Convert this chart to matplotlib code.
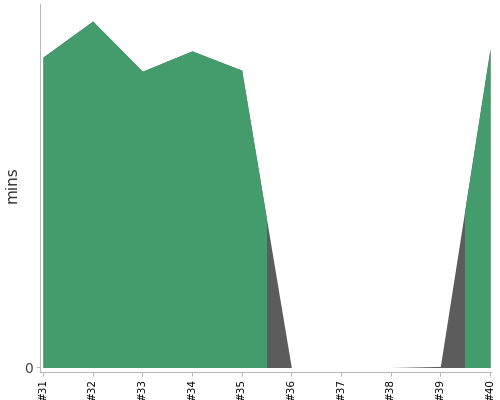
import matplotlib
matplotlib.use('Agg')
import matplotlib.pyplot as plt
from matplotlib.patches import Rectangle

builds = [31, 32, 33, 34, 35, 36, 37, 38, 39, 40]
labels = ['#%d' % b for b in builds]
mins = [85.4, 95.3, 81.5, 87.1, 81.8, 0, 0, 0, 0.3, 87.6]
passed = [True, True, True, True, True, False, False, False, False, True]

fig = plt.figure(figsize=(5, 4), dpi=100)
ax = fig.add_axes([40 / 500, 28 / 400, 451 / 500, 368 / 400])

# whole series in dark grey, green painted over passing builds
ax.fill_between(builds, mins, 0, color='#5c5c5c', lw=0)
for i, b in enumerate(builds):
    if not passed[i]:
        continue
    lo = b - 0.5 if i > 0 else b - 1
    hi = b + 0.5 if i < len(builds) - 1 else b + 1
    poly = ax.fill_between(builds, mins, 0, color='#449c6c', lw=0)
    clip = Rectangle((lo, -10), hi - lo, 200, transform=ax.transData)
    poly.set_clip_path(clip)

ax.set_xlim(30.94, 40.02)
ax.set_ylim(-1.24, 100)
ax.set_xticks(builds)
ax.set_xticklabels(labels, rotation=90, fontsize=7.5)
ax.set_yticks([0])
ax.set_yticklabels(['0'], fontsize=10, color='#444444')
ax.set_ylabel('mins', fontsize=11, color='#333333')
ax.yaxis.set_label_coords(-0.045, 0.51)

for s in ['top', 'right']:
    ax.spines[s].set_visible(False)
for s in ['left', 'bottom']:
    ax.spines[s].set_color('#bbbbbb')
ax.tick_params(axis='both', color='#bbbbbb', length=3, pad=2)

fig.savefig('out.png', dpi=100)
